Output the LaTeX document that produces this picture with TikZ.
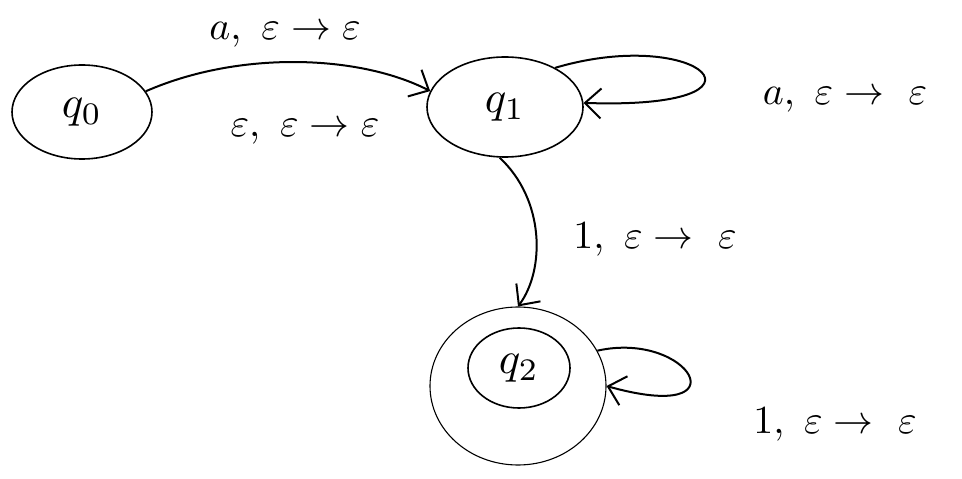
\documentclass[tikz,border=0pt]{standalone}
\usetikzlibrary{arrows.meta,shapes.geometric}
\begin{document}
\begin{tikzpicture}[x=1bp,y=-1bp,
  statebox/.style={draw,ellipse,line width=1.6bp,inner sep=0pt},
  arr/.style={line width=2bp,-{Straight Barb[length=16bp,width=30bp,line width=2bp]}},
  lbl/.style={scale=4,inner sep=0pt},
  qtxt/.style={scale=4.5,inner sep=0pt}]
\useasboundingbox (0,0) rectangle (962,479);
\fill[white] (0,0) rectangle (962,479);
\node[statebox,minimum width=140bp,minimum height=94bp] (q0) at (82,112) {};
\node[qtxt] at (q0) {$q_0$};
\node[statebox,minimum width=156bp,minimum height=100bp] (q1) at (505,107) {};
\node[qtxt] at (q1) {$q_1$};
\node[draw,ellipse,line width=1.1bp,inner sep=0pt,minimum width=176bp,minimum height=158bp] (q2) at (518,386) {};
\node[statebox,minimum width=102bp,minimum height=80bp] (q2in) at (519,368) {};
\node[qtxt] at (q2in) {$q_2$};
% edges
\draw[arr] (q0.18) .. controls (240,50) and (360,55) .. (q1.168);
\draw[arr] (q1.38) .. controls (700,25) and (790,110) .. (q1.3);
\draw[arr] (q1.264) .. controls (545,200) and (545,270) .. (q2.north);
\draw[arr] (q2.24) .. controls (690,330) and (745,425) .. (q2.0);
% labels
\node[lbl] (l1) at (285,35) {$a,\ \varepsilon \to \varepsilon$};
\node[lbl] (l2) at (305,132) {$\varepsilon,\ \varepsilon \to \varepsilon$};
\node[lbl] (l3) at (845,100) {$a,\ \varepsilon \to\ \varepsilon$};
\node[lbl] (l4) at (655,240) {$1,\ \varepsilon \to\ \varepsilon$};
\node[lbl] (l5) at (835,425) {$1,\ \varepsilon \to\ \varepsilon$};
\end{tikzpicture}
\end{document}
